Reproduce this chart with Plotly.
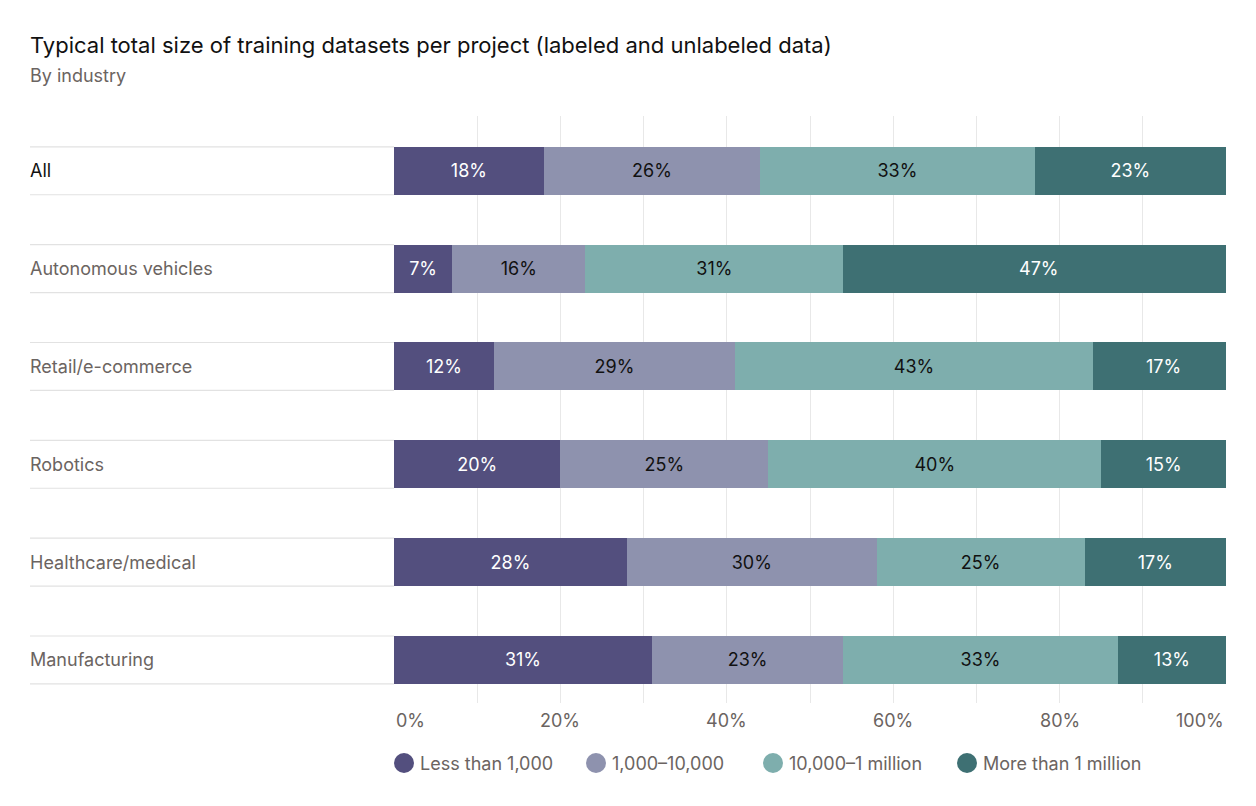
import plotly.graph_objects as go

categories = ["All", "Autonomous vehicles", "Retail/e-commerce", "Robotics",
              "Healthcare/medical", "Manufacturing"]
series_names = ["Less than 1,000", "1,000–10,000", "10,000–1 million", "More than 1 million"]
less_1k = [18, 7, 12, 20, 28, 31]
k1_10k = [26, 16, 29, 25, 30, 23]
k10_1m = [33, 31, 43, 40, 25, 33]
more_1m = [23, 47, 17, 15, 17, 13]
series_values = [less_1k, k1_10k, k10_1m, more_1m]
tick_values = [0, 20, 40, 60, 80, 100]
tick_labels = ["0%", "20%", "40%", "60%", "80%", "100%"]

colors = ["#534f7e", "#8e92ae", "#7eaead", "#3e7073"]
text_colors = ["#ffffff", "#111111", "#111111", "#ffffff"]
FONT = "Inter"
GRAY = "#6b6461"

W, H = 1256, 806
L, R, T, B = 394, 30, 116, 103
pw = W - L - R
ph = H - T - B

def px_x(px):
    return (px - L) / pw

def px_y(py):
    return (H - B - py) / ph

fig = go.Figure()

for name, vals, c, tc in zip(series_names, series_values, colors, text_colors):
    fig.add_trace(go.Bar(
        y=categories, x=vals, orientation="h", name=name,
        marker=dict(color=c, line=dict(width=0)),
        text=[f"{v}%" for v in vals], textposition="inside",
        insidetextanchor="middle",
        textfont=dict(family=FONT, size=18, color=tc),
        showlegend=False, width=0.49, hoverinfo="skip",
    ))

shapes = []
for i, cat in enumerate(categories):
    for dy in (-0.245, 0.245):
        shapes.append(dict(type="line", xref="paper", yref="y",
                           x0=px_x(30), x1=0, y0=i + dy, y1=i + dy,
                           line=dict(color="#e2e2e2", width=1.2), layer="below"))

annotations = []
for i, cat in enumerate(categories):
    annotations.append(dict(
        text=cat, xref="paper", yref="y", x=px_x(28), y=i,
        xanchor="left", yanchor="middle", showarrow=False,
        font=dict(family=FONT, size=18, color="#111111" if i == 0 else GRAY)))

for v, lab in zip(tick_values, tick_labels):
    anchor = "left" if v == 0 else ("right" if v == 100 else "center")
    annotations.append(dict(
        text=lab, xref="x", yref="paper", x=v, y=px_y(720),
        xanchor=anchor, yanchor="middle", showarrow=False,
        font=dict(family=FONT, size=18, color=GRAY)))

# legend (circle + label)
legend_cx = [404, 596, 773, 967]
legend_cy = 763
for name, c, cx in zip(series_names, colors, legend_cx):
    shapes.append(dict(type="circle", xref="paper", yref="paper",
                       xsizemode="pixel", ysizemode="pixel",
                       xanchor=px_x(cx), yanchor=px_y(legend_cy),
                       x0=-10, x1=10, y0=-10, y1=10,
                       fillcolor=c, line=dict(width=0)))
    annotations.append(dict(
        text=name, xref="paper", yref="paper", x=px_x(cx + 14), y=px_y(legend_cy),
        xanchor="left", yanchor="middle", showarrow=False,
        font=dict(family=FONT, size=18, color=GRAY)))

annotations.append(dict(
    text="Typical total size of training datasets per project (labeled and unlabeled data)",
    xref="paper", yref="paper", x=px_x(28), y=px_y(45),
    xanchor="left", yanchor="middle", showarrow=False,
    font=dict(family=FONT, size=22, color="#111111")))
annotations.append(dict(
    text="By industry", xref="paper", yref="paper", x=px_x(28), y=px_y(75),
    xanchor="left", yanchor="middle", showarrow=False,
    font=dict(family=FONT, size=18, color=GRAY)))

fig.update_layout(
    width=W, height=H,
    margin=dict(l=L, r=R, t=T, b=B),
    barmode="stack",
    showlegend=False,
    plot_bgcolor="white", paper_bgcolor="white",
    font=dict(family=FONT, size=18, color=GRAY),
    xaxis=dict(range=[0, 100], dtick=10, showgrid=True, gridcolor="#e8e8e8",
               gridwidth=1.2, showticklabels=False, zeroline=False,
               showline=False, fixedrange=True),
    yaxis=dict(range=[5 + 0.44, -0.56], showticklabels=False, showgrid=False,
               zeroline=False, showline=False, fixedrange=True),
    shapes=shapes, annotations=annotations,
    uniformtext=dict(mode=False),
)

fig.write_html("out.html")
